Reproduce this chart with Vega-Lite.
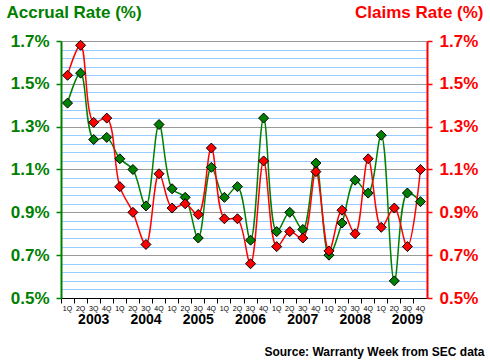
{
  "$schema": "https://vega.github.io/schema/vega-lite/v6.json",
  "width": 366,
  "height": 257,
  "autosize": {"type": "none"},
  "padding": {"left": 61, "top": 41, "right": 63, "bottom": 65},
  "background": "white",
  "config": {"view": {"stroke": null}, "font": "Liberation Sans"},
  "data": {"values": [
    {"period": "2003-1Q", "accrual": 1.41, "claims": 1.54},
    {"period": "2003-2Q", "accrual": 1.55, "claims": 1.68},
    {"period": "2003-3Q", "accrual": 1.24, "claims": 1.32},
    {"period": "2003-4Q", "accrual": 1.25, "claims": 1.34},
    {"period": "2004-1Q", "accrual": 1.15, "claims": 1.02},
    {"period": "2004-2Q", "accrual": 1.10, "claims": 0.90},
    {"period": "2004-3Q", "accrual": 0.93, "claims": 0.75},
    {"period": "2004-4Q", "accrual": 1.31, "claims": 1.08},
    {"period": "2005-1Q", "accrual": 1.01, "claims": 0.92},
    {"period": "2005-2Q", "accrual": 0.97, "claims": 0.94},
    {"period": "2005-3Q", "accrual": 0.78, "claims": 0.89},
    {"period": "2005-4Q", "accrual": 1.11, "claims": 1.20},
    {"period": "2006-1Q", "accrual": 0.97, "claims": 0.87},
    {"period": "2006-2Q", "accrual": 1.02, "claims": 0.87},
    {"period": "2006-3Q", "accrual": 0.77, "claims": 0.66},
    {"period": "2006-4Q", "accrual": 1.34, "claims": 1.14},
    {"period": "2007-1Q", "accrual": 0.81, "claims": 0.74},
    {"period": "2007-2Q", "accrual": 0.90, "claims": 0.81},
    {"period": "2007-3Q", "accrual": 0.82, "claims": 0.78},
    {"period": "2007-4Q", "accrual": 1.13, "claims": 1.09},
    {"period": "2008-1Q", "accrual": 0.70, "claims": 0.72},
    {"period": "2008-2Q", "accrual": 0.85, "claims": 0.91},
    {"period": "2008-3Q", "accrual": 1.05, "claims": 0.80},
    {"period": "2008-4Q", "accrual": 0.99, "claims": 1.15},
    {"period": "2009-1Q", "accrual": 1.26, "claims": 0.83},
    {"period": "2009-2Q", "accrual": 0.58, "claims": 0.92},
    {"period": "2009-3Q", "accrual": 0.99, "claims": 0.74},
    {"period": "2009-4Q", "accrual": 0.95, "claims": 1.10}
  ]},
  "layer": [
    {
      "mark": {"type": "line", "interpolate": "catmull-rom", "color": "#008000", "strokeWidth": 1.5},
      "encoding": {
        "x": {"field": "period", "type": "ordinal", "sort": null,
          "scale": {"type": "band", "paddingInner": 0, "paddingOuter": 0},
          "axis": {"orient": "bottom", "bandPosition": 0, "title": null, "labelAngle": 0,
            "labelExpr": "split(datum.value,'-')[1]", "labelDx": 6.5, "labelFontSize": 7,
            "labelColor": "black", "labelPadding": 1.5, "tickSize": 5, "tickColor": "black",
            "domainColor": "black", "grid": false, "labelOverlap": false, "labelBound": false}},
        "y": {"field": "accrual", "type": "quantitative",
          "scale": {"domain": [0.5, 1.7], "nice": false, "zero": false},
          "axis": {"orient": "left",
            "values": [0.5,0.54,0.58,0.62,0.66,0.7,0.74,0.78,0.82,0.86,0.9,0.94,0.98,1.02,1.06,1.1,1.14,1.18,1.22,1.26,1.3,1.34,1.38,1.42,1.46,1.5,1.54,1.58,1.62,1.66,1.7],
            "labelExpr": "round(datum.value*100)%20==10 ? format(datum.value,'.1f')+'%' : ''",
            "labelFontSize": 17, "labelFontWeight": "bold", "labelColor": "#008000", "labelPadding": 7,
            "labelOverlap": false, "labelBound": false,
            "tickSize": 5, "tickWidth": 1.5,
            "tickColor": {"condition": {"test": "round(datum.value*100)%20==10", "value": "#008000"}, "value": "transparent"},
            "domainColor": "#008000", "domainWidth": 2,
            "grid": true, "gridWidth": 1,
            "gridColor": {"condition": {"test": "round(datum.value*100)%20==10", "value": "#999999"}, "value": "#99CCFF"},
            "title": "Accrual Rate (%)", "titleAngle": 0, "titleAlign": "left", "titleBaseline": "alphabetic",
            "titleX": -55, "titleY": -24, "titleFontSize": 17, "titleFontWeight": "bold", "titleColor": "#008000"}}
      }
    },
    {
      "mark": {"type": "line", "interpolate": "catmull-rom", "color": "#FF0000", "strokeWidth": 1.5},
      "encoding": {
        "x": {"field": "period", "type": "ordinal", "sort": null,
          "scale": {"type": "band", "paddingInner": 0, "paddingOuter": 0}, "axis": null},
        "y": {"field": "claims", "type": "quantitative",
          "scale": {"domain": [0.5, 1.7], "nice": false, "zero": false},
          "axis": {"orient": "right",
            "values": [0.5, 0.7, 0.9, 1.1, 1.3, 1.5, 1.7],
            "labelExpr": "format(datum.value,'.1f')+'%'",
            "labelFontSize": 17, "labelFontWeight": "bold", "labelColor": "#FF0000", "labelPadding": 7,
            "labelOverlap": false, "labelBound": false,
            "tickSize": 5, "tickWidth": 1.5, "tickColor": "#FF0000",
            "domainColor": "#FF0000", "domainWidth": 2, "grid": false,
            "title": "Claims Rate (%)", "titleAngle": 0, "titleAlign": "right", "titleBaseline": "alphabetic",
            "titleX": 56, "titleY": -24, "titleFontSize": 17, "titleFontWeight": "bold", "titleColor": "#FF0000"}}
      }
    },
    {
      "mark": {"type": "point", "shape": "diamond", "filled": true, "size": 100, "fill": "#008000", "stroke": "black", "strokeWidth": 1, "opacity": 1},
      "encoding": {
        "x": {"field": "period", "type": "ordinal", "sort": null,
          "scale": {"type": "band", "paddingInner": 0, "paddingOuter": 0},
          "axis": {"orient": "bottom", "bandPosition": 0,
            "values": ["2003-3Q", "2004-3Q", "2005-3Q", "2006-3Q", "2007-3Q", "2008-3Q", "2009-3Q"],
            "labelExpr": "slice(datum.value,0,4)", "labelAngle": 0,
            "ticks": false, "tickSize": 0, "domain": false, "grid": false,
            "labelPadding": 14, "labelFontSize": 14, "labelFontWeight": "bold", "labelColor": "black",
            "labelOverlap": false, "labelBound": false,
            "title": "Source: Warranty Week from SEC data", "titleX": 423, "titleY": 57,
            "titleAlign": "right", "titleAnchor": "end", "titleBaseline": "alphabetic",
            "titleFontSize": 12, "titleFontWeight": "bold", "titleColor": "black"}},
        "y": {"field": "accrual", "type": "quantitative",
          "scale": {"domain": [0.5, 1.7], "nice": false, "zero": false}, "axis": null}
      }
    },
    {
      "mark": {"type": "point", "shape": "diamond", "filled": true, "size": 100, "fill": "#FF0000", "stroke": "black", "strokeWidth": 1, "opacity": 1},
      "encoding": {
        "x": {"field": "period", "type": "ordinal", "sort": null,
          "scale": {"type": "band", "paddingInner": 0, "paddingOuter": 0}, "axis": null},
        "y": {"field": "claims", "type": "quantitative",
          "scale": {"domain": [0.5, 1.7], "nice": false, "zero": false}, "axis": null}
      }
    }
  ],
  "resolve": {
    "scale": {"x": "independent", "y": "independent"},
    "axis": {"x": "independent", "y": "independent"}
  }
}
